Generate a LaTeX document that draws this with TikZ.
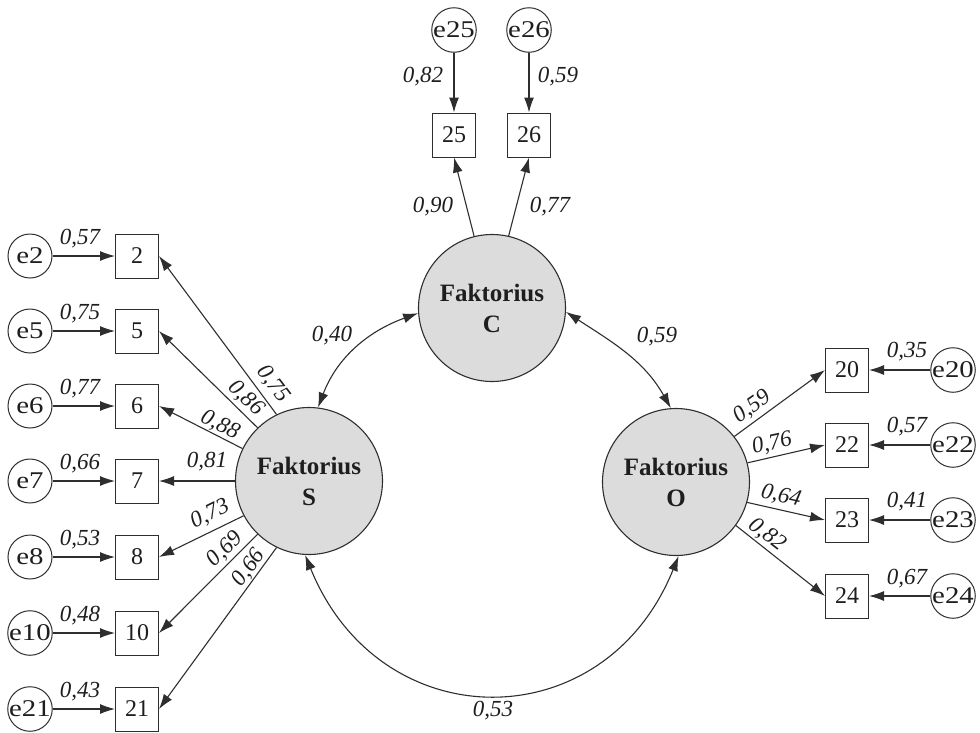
\documentclass[tikz,border=0pt]{standalone}
\usepackage{fontspec}
\setmainfont{Liberation Serif}
\usepackage{graphicx}
\usetikzlibrary{arrows.meta}
\definecolor{ln}{HTML}{2E2E2E}
\definecolor{txt}{HTML}{1E1E1E}
\definecolor{latfill}{HTML}{DCDCDC}
\tikzset{
  lat/.style={circle, draw=ln, line width=1.1pt, fill=latfill, minimum size=147pt, inner sep=0pt,
    align=center, text=txt, font=\fontsize{25}{31}\selectfont\bfseries},
  err/.style={circle, draw=ln, line width=1pt, minimum size=44pt, inner sep=0pt, text=txt,
    font=\fontsize{24}{26}\selectfont},
  obs/.style={rectangle, draw=ln, line width=1pt, minimum width=43pt, minimum height=44pt,
    inner sep=0pt, text=txt, font=\fontsize{24}{26}\selectfont},
  arr/.style={draw=ln, line width=1.1pt, -{Latex[length=15pt,width=10pt]}},
  dbl/.style={draw=ln, line width=1.1pt, {Latex[length=15pt,width=10pt]}-{Latex[length=15pt,width=10pt]}},
  lbl/.style={inner sep=0pt, text=txt, font=\fontsize{23}{25}\selectfont\itshape},
}
\begin{document}
\begin{tikzpicture}[x=1pt,y=-1pt]
\path[use as bounding box] (0,0) rectangle (980,732);

% latent factors
\node[lat] (S) at (309,481) {Faktorius\\S};
\node[lat] (C) at (492,308) {Faktorius\\C};
\node[lat] (O) at (676,482) {Faktorius\\O};

% left block
\foreach \n/\y in {2/256,5/331,6/406,7/481,8/557,10/633,21/709}{
  \node[obs] (b\n) at (137,\y) {\n};
  \node[err] (e\n) at (30,\y) {\scalebox{1.2}[1]{e\n}};
  \draw[arr] (e\n) -- (b\n);
}
\foreach \n/\a in {2/116,5/134,6/154,7/180,8/208,10/226,21/244}{
  \draw[arr] (S.\a) -- (b\n.east);
}
\node[lbl] (le2)  at (80,239) {0,57};
\node[lbl] (le5)  at (80,314) {0,75};
\node[lbl] (le6)  at (80,389) {0,77};
\node[lbl] (le7)  at (80,464) {0,66};
\node[lbl] (le8)  at (80,540) {0,53};
\node[lbl] (le10) at (80,616) {0,48};
\node[lbl] (le21) at (80,692) {0,43};

\node[lbl, rotate=-53] (ls2)  at (273,384) {0,75};
\node[lbl, rotate=-44] (ls5)  at (246,398) {0,86};
\node[lbl, rotate=-26] (ls6)  at (220,425) {0,88};
\node[lbl]             (ls7)  at (207,462) {0,81};
\node[lbl, rotate=26]  (ls8)  at (210,514) {0,73};
\node[lbl, rotate=45]  (ls10) at (225,549) {0,69};
\node[lbl, rotate=54]  (ls21) at (249,568) {0,66};

% right block
\foreach \n/\y in {20/370,22/445,23/520,24/596}{
  \node[obs] (b\n) at (847,\y) {\n};
  \node[err] (e\n) at (953,\y) {\scalebox{1.2}[1]{e\n}};
  \draw[arr] (e\n) -- (b\n);
}
\foreach \n/\a in {20/38,22/15,23/-16,24/-36}{
  \draw[arr] (O.\a) -- (b\n.west);
}
\node[lbl] (le20) at (907,352) {0,35};
\node[lbl] (le22) at (907,427) {0,57};
\node[lbl] (le23) at (907,502) {0,41};
\node[lbl] (le24) at (907,579) {0,67};

\node[lbl, rotate=35]  (lo20) at (752,407) {0,59};
\node[lbl, rotate=12]  (lo22) at (772,444) {0,76};
\node[lbl, rotate=-13] (lo23) at (781,496) {0,64};
\node[lbl, rotate=-38] (lo24) at (767,535) {0,82};

% top block
\node[obs] (b25) at (454,135) {25};
\node[obs] (b26) at (529,135) {26};
\node[err] (e25) at (454,30) {\scalebox{1.2}[1]{e25}};
\node[err] (e26) at (529,30) {\scalebox{1.2}[1]{e26}};
\draw[arr] (e25) -- (b25);
\draw[arr] (e26) -- (b26);
\draw[arr] (C.104) -- (b25.south);
\draw[arr] (C.77) -- (b26.south);
\node[lbl] (le25) at (423,77) {0,82};
\node[lbl] (le26) at (558,77) {0,59};
\node[lbl] (lc25) at (433,207) {0,90};
\node[lbl] (lc26) at (550,207) {0,77};

% covariances
\draw[dbl] (S.83) .. controls +(19,-50) and +(-50,18) .. (C.184);
\draw[dbl] (C.-3) .. controls +(46,30) and +(-27,-48) .. (O.94);
\draw[dbl] (S.267) .. controls +(75,185) and +(-74,184) .. (O.272);
\node[lbl] (lsc) at (332,336) {0,40};
\node[lbl] (lco) at (657,337) {0,59};
\node[lbl] (lso) at (493,711) {0,53};
\end{tikzpicture}
\end{document}
